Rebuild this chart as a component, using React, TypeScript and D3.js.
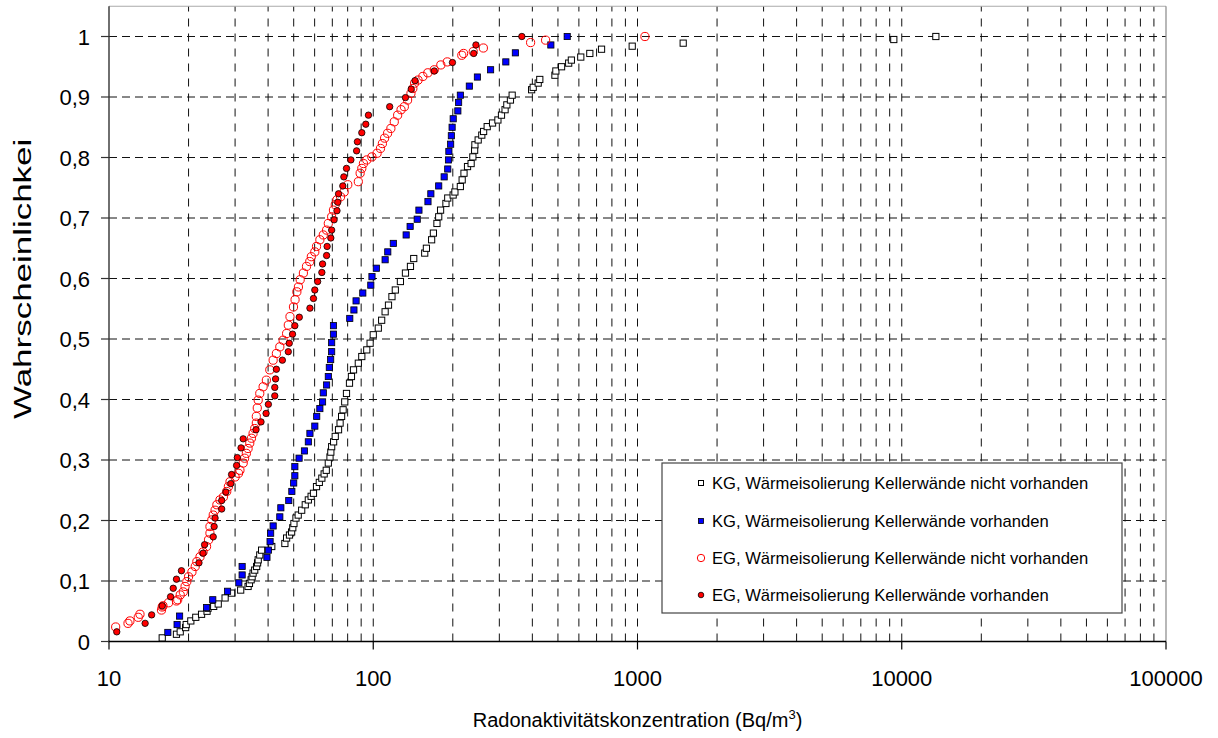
import React from 'react';
import * as d3 from 'd3';

type P = [number, number];

// KG, Wärmeisolierung Kellerwände nicht vorhanden (open squares)
const kgOhne: P[] = [
  [15.9,.006],[18.0,.012],[18.6,.016],[19.5,.023],[19.6,.028],[20.4,.034],[21.3,.040],[22.4,.045],[23.5,.050],[23.7,.055],
  [24.9,.058],[25.9,.062],[27.5,.072],[29.1,.080],[31.5,.085],[33.6,.091],[34.0,.096],[34.5,.102],[34.8,.107],[35.1,.113],
  [35.6,.118],[36.2,.124],[36.5,.130],[36.7,.135],[37.2,.143],[37.8,.151],[41.3,.157],[46.3,.162],[47.0,.171],[48.2,.176],
  [49.1,.181],[49.6,.188],[50.1,.195],[51.0,.204],[52.0,.209],[53.6,.217],[55.3,.226],[56.8,.234],[58.2,.240],[59.4,.245],
  [61.0,.256],[62.5,.263],[63.9,.270],[65.2,.277],[66.4,.283],[67.6,.295],[68.6,.305],[69.1,.313],[69.6,.322],[70.8,.330],
  [71.8,.339],[73.9,.350],[74.9,.361],[75.9,.372],[76.9,.383],[78.0,.396],[79.2,.410],[81.3,.427],[82.7,.438],[84.2,.449],
  [87.8,.460],[90.5,.471],[94.5,.482],[97.3,.493],[100,.507],[104.5,.518],[107.6,.531],[110.9,.545],[114.2,.556],[117.7,.570],
  [121.2,.581],[126.7,.595],[132.4,.609],[138.3,.620],[142.3,.633],[156.6,.642],[158.9,.650],[166.3,.664],[168.9,.675],[174.2,.691],
  [176.9,.702],[179.8,.713],[188.4,.724],[191.4,.733],[200.6,.738],[203.7,.743],[213.6,.752],[217,.763],[220.5,.774],[227.4,.785],
  [234.6,.790],[238.2,.801],[241.9,.812],[242.5,.821],[249.5,.829],[257.5,.837],[261.6,.843],[269.9,.851],[282.8,.857],[296.3,.862],
  [305.7,.870],[315.4,.879],[320.3,.887],[330.5,.895],[335.5,.903],[397.5,.912],[403,.916],[420.9,.923],[426.8,.929],[487,.936],
  [491,.943],[516,.950],[549,.956],[562,.961],[610,.966],[660,.972],[731,.979],[955,.984],[1489,.989],[9330,.995],[13460,1.0]
];

// KG, Wärmeisolierung Kellerwände vorhanden (blue squares)
const kgMit: P[] = [
  [16.7,.015],[18.1,.028],[18.5,.042],[23.4,.056],[24.7,.069],[28.1,.083],[31.0,.097],[31.9,.110],[31.9,.124],[39.6,.139],
  [40.1,.151],[40.7,.165],[40.9,.179],[41.8,.191],[44.3,.206],[44.7,.221],[47.9,.233],[49.2,.248],[50.0,.262],[50.5,.274],
  [50.5,.289],[52.4,.303],[54.9,.315],[56.8,.330],[57.6,.344],[60.1,.356],[61.1,.372],[62.8,.385],[64.3,.396],[64.7,.411],
  [66.6,.424],[67.6,.438],[68.2,.453],[69.0,.466],[69.6,.479],[69.6,.494],[70.7,.508],[70.7,.522],[81.5,.534],[84.5,.548],
  [86.1,.563],[91.3,.576],[97.9,.589],[98.9,.603],[102.7,.617],[110.9,.631],[113.5,.644],[119.1,.658],[133.2,.672],[137.9,.686],
  [146.7,.698],[148.9,.713],[161.1,.727],[165.2,.740],[176.9,.753],[185.5,.768],[191.4,.781],[192.6,.796],[193.3,.810],[196.3,.822],
  [197.5,.836],[198.8,.850],[200.7,.864],[209,.877],[210.4,.891],[213.6,.903],[231,.918],[247.8,.933],[278,.945],[317.5,.958],
  [345,.973],[470,.986],[542,1.0]
];

// EG, Wärmeisolierung Kellerwände nicht vorhanden (red open circles)
const egOhne: P[] = [
  [10.6,.024],[11.8,.030],[12.0,.034],[12.9,.040],[13.1,.045],[15.8,.052],[15.9,.057],[16.0,.059],[16.8,.064],[18.0,.067],
  [18.2,.069],[18.6,.077],[19.1,.082],[19.4,.091],[19.7,.099],[20.0,.107],[20.6,.115],[21.2,.124],[21.5,.132],[22.1,.140],
  [22.7,.148],[23.4,.157],[23.8,.168],[24.1,.179],[24.1,.190],[24.5,.201],[24.8,.209],[25.2,.217],[25.6,.226],[26.3,.234],
  [27.1,.239],[27.9,.248],[28.3,.256],[28.7,.264],[30.0,.272],[30.9,.278],[31.3,.283],[32.2,.295],[32.6,.303],[33.1,.311],
  [33.6,.319],[34.1,.328],[34.6,.336],[35.1,.344],[35.6,.352],[36.1,.361],[36.1,.372],[36.4,.386],[36.7,.399],[37.2,.410],
  [38.3,.421],[39.4,.432],[40.6,.449],[41.8,.465],[43.0,.476],[44.3,.487],[45.6,.498],[47.0,.509],[47.7,.523],[48.4,.537],
  [49.9,.553],[50.6,.565],[51.4,.578],[52.1,.586],[52.9,.598],[54.4,.609],[55.9,.620],[57.5,.628],[58.3,.636],[60.1,.644],
  [61.0,.653],[62.8,.664],[64.7,.672],[66.6,.680],[67.6,.691],[69.6,.702],[70.7,.713],[71.8,.722],[72.9,.730],[75.2,.735],
  [77.6,.743],[80.1,.755],[87.8,.760],[89.2,.774],[90.5,.782],[91.8,.790],[94.5,.796],[98.8,.801],[103.4,.807],[106.5,.815],
  [108.3,.823],[110.4,.832],[113.3,.840],[116.6,.848],[120.1,.859],[123.7,.870],[127.4,.879],[131.1,.884],[134.9,.895],[138.9,.906],
  [141.2,.914],[143.4,.923],[147.7,.928],[154.1,.934],[160.9,.940],[170.2,.945],[180.2,.953],[190.6,.958],[216.3,.969],[219.7,.972],
  [239,.975],[261,.981],[394,.990],[449,.994],[1067,1.0]
];

// EG, Wärmeisolierung Kellerwände vorhanden (red filled circles)
const egMit: P[] = [
  [10.7,.016],[13.7,.030],[14.5,.044],[15.9,.059],[17.1,.074],[17.5,.088],[18.0,.103],[18.8,.117],[21.9,.130],[22.7,.146],
  [23.0,.160],[24.8,.173],[25.0,.190],[25.2,.204],[26.7,.219],[26.7,.233],[27.7,.247],[28.9,.261],[29.1,.276],[30.4,.291],
  [30.6,.304],[31.6,.320],[32.2,.335],[36.0,.350],[37.6,.363],[39.3,.377],[40.1,.392],[42.4,.406],[42.4,.420],[42.7,.434],
  [43.0,.450],[45.3,.465],[47.7,.479],[48.1,.493],[49.5,.508],[50.5,.522],[52.5,.536],[57.6,.551],[59.4,.567],[60.1,.581],
  [61.6,.595],[63.9,.610],[64.3,.624],[66.6,.638],[66.9,.653],[69.1,.667],[69.6,.680],[71.1,.697],[72.9,.712],[73.4,.726],
  [73.9,.740],[76.7,.753],[77.4,.768],[79.2,.782],[82.3,.796],[86.5,.811],[87.1,.826],[90.5,.841],[93.7,.855],[95.9,.870],
  [115.4,.884],[132.4,.899],[139.2,.913],[143.9,.927],[170.2,.943],[199.4,.957],[240,.972],[244.7,.986],[365,1.0]
];

const legendLabels = [
  'KG, Wärmeisolierung Kellerwände nicht vorhanden',
  'KG, Wärmeisolierung Kellerwände vorhanden',
  'EG, Wärmeisolierung Kellerwände nicht vorhanden',
  'EG, Wärmeisolierung Kellerwände vorhanden',
];

const xTickValues = [10, 100, 1000, 10000, 100000];
const xTickLabels = ['10', '100', '1000', '10000', '100000'];
const yTickValues = [0, 0.1, 0.2, 0.3, 0.4, 0.5, 0.6, 0.7, 0.8, 0.9, 1];
const yTickLabels = ['0', '0,1', '0,2', '0,3', '0,4', '0,5', '0,6', '0,7', '0,8', '0,9', '1'];
const xTitle = 'Radonaktivitätskonzentration (Bq/m';
const yTitle = 'Wahrscheinlichkeit';

const W = 1218, H = 738;
const PL = 109, PR = 1166, PT = 6.25, PB = 641.5;
const FONT = '"Liberation Sans", Arial, sans-serif';

type Kind = 'openSq' | 'blueSq' | 'openCirc' | 'redDot';

function Marker({ kind, cx, cy, small }: { kind: Kind; cx: number; cy: number; small?: boolean }) {
  if (kind === 'openSq') {
    const s = small ? 5 : 6.2;
    return <rect x={cx - s / 2} y={cy - s / 2} width={s} height={s} fill="#fff" stroke="#000" strokeWidth={1} />;
  }
  if (kind === 'blueSq') {
    const s = small ? 5 : 6.2;
    return <rect x={cx - s / 2} y={cy - s / 2} width={s} height={s} fill="#0000ff" stroke="#000" strokeWidth={0.8} />;
  }
  if (kind === 'openCirc') {
    return <circle cx={cx} cy={cy} r={small ? 3.7 : 4.1} fill="none" stroke="#ff0000" strokeWidth={1} />;
  }
  return <circle cx={cx} cy={cy} r={small ? 2.8 : 3.2} fill="#ff0000" stroke="#000" strokeWidth={0.8} />;
}

export default function App() {
  const x = d3.scaleLog().domain([10, 100000]).range([PL, PR]);
  const y = d3.scaleLinear().domain([0, 1.05]).range([PB, PT]);
  const vGrid = x.ticks().filter((v) => v > 10 && v < 100000);
  const hGrid = yTickValues.filter((v) => v > 0);

  const series: { data: P[]; kind: Kind }[] = [
    { data: kgOhne, kind: 'openSq' },
    { data: kgMit, kind: 'blueSq' },
    { data: egOhne, kind: 'openCirc' },
    { data: egMit, kind: 'redDot' },
  ];
  const kinds: Kind[] = ['openSq', 'blueSq', 'openCirc', 'redDot'];

  const lg = { x: 662, y: 463, w: 460, h: 150 };
  const rowY = [483, 521, 558, 595];

  return (
    <svg width={W} height={H} style={{ position: 'absolute', left: 0, top: 0, background: '#fff' }} fontFamily={FONT}>
      <defs>
        <clipPath id="ytitleclip">
          <rect x={0} y={139} width={60} height={300} />
        </clipPath>
      </defs>
      <rect x={0} y={0} width={W} height={H} fill="#fff" />
      {/* vertical grid */}
      {vGrid.map((v, i) => (
        <line key={'vg' + i} x1={x(v)} x2={x(v)} y1={PB} y2={PT} stroke="#111" strokeWidth={1} strokeDasharray="8,7" />
      ))}
      {/* horizontal grid */}
      {hGrid.map((v, i) => (
        <line key={'hg' + i} x1={PL} x2={PR} y1={y(v)} y2={y(v)} stroke="#111" strokeWidth={1} strokeDasharray="8,5" />
      ))}
      {/* frame */}
      <line x1={PL} x2={PR} y1={PT} y2={PT} stroke="#aaa" strokeWidth={1.2} />
      <line x1={PR} x2={PR} y1={PT} y2={PB} stroke="#888" strokeWidth={1.2} />
      <line x1={PL} x2={PL} y1={PT} y2={PB} stroke="#333" strokeWidth={1.4} />
      <line x1={PL - 1} x2={PR} y1={PB} y2={PB} stroke="#000" strokeWidth={1.4} />
      {/* ticks */}
      {xTickValues.map((v, i) => (
        <line key={'xt' + i} x1={x(v)} x2={x(v)} y1={PB} y2={PB + 8} stroke="#000" strokeWidth={1.2} />
      ))}
      {yTickValues.map((v, i) => (
        <line key={'yt' + i} x1={PL - 8} x2={PL} y1={y(v)} y2={y(v)} stroke="#333" strokeWidth={1.2} />
      ))}
      {/* tick labels */}
      {xTickValues.map((v, i) => (
        <text key={'xl' + i} x={x(v)} y={686} textAnchor="middle" fontSize={22} fill="#000">{xTickLabels[i]}</text>
      ))}
      {yTickValues.map((v, i) => (
        <text key={'yl' + i} x={90} y={y(v) + 8} textAnchor="end" fontSize={22} fill="#000">{yTickLabels[i]}</text>
      ))}
      {/* titles */}
      <text x={(PL + PR) / 2} y={727} textAnchor="middle" fontSize={20} fill="#000">
        {xTitle}
        <tspan fontSize={13} dy={-8}>3</tspan>
        <tspan dy={8}>)</tspan>
      </text>
      <g clipPath="url(#ytitleclip)">
        <text transform="translate(31, 419) rotate(-90)" textAnchor="start" fontSize={23} fill="#000"
          textLength={290} lengthAdjust="spacingAndGlyphs">{yTitle}</text>
      </g>
      {/* data */}
      {series.map((s, si) => (
        <g key={'s' + si}>
          {s.data.map((d, i) => (
            <Marker key={i} kind={s.kind} cx={x(d[0])} cy={y(d[1])} />
          ))}
        </g>
      ))}
      {/* legend */}
      <rect x={lg.x} y={lg.y} width={lg.w} height={lg.h} fill="#fff" stroke="#444" strokeWidth={1.2} />
      {legendLabels.map((t, i) => (
        <g key={'lg' + i}>
          <Marker kind={kinds[i]} cx={701} cy={rowY[i]} small />
          <text x={712} y={rowY[i] + 5.8} fontSize={16.6} fill="#000">{t}</text>
        </g>
      ))}
    </svg>
  );
}
